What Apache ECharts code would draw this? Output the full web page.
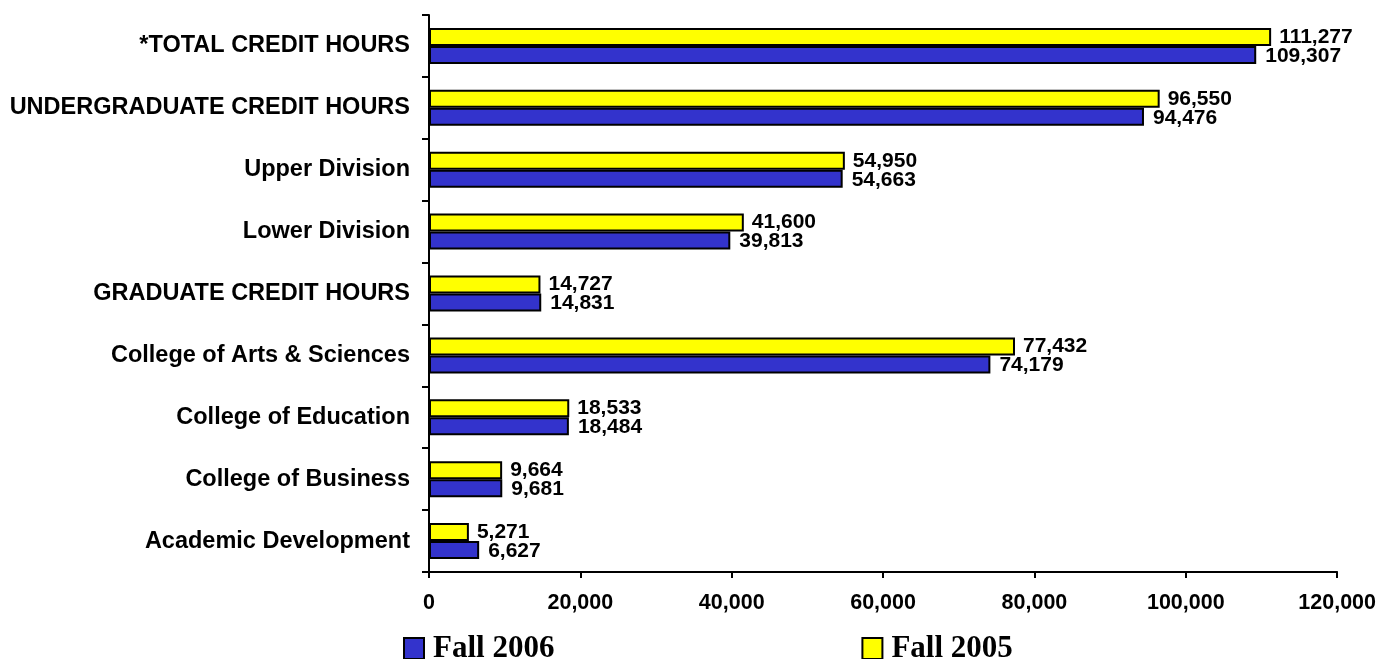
<!DOCTYPE html>
<html>
<head>
<meta charset="utf-8">
<script src="https://cdn.jsdelivr.net/npm/echarts@6/dist/echarts.min.js"></script>
<style>
html,body{margin:0;padding:0;background:#fff;}
#chart{width:1379px;height:659px;}
</style>
</head>
<body>
<div id="chart"></div>
<script>
var categories = ["*TOTAL CREDIT HOURS", "UNDERGRADUATE CREDIT HOURS", "Upper Division", "Lower Division", "GRADUATE CREDIT HOURS", "College of Arts & Sciences", "College of Education", "College of Business", "Academic Development"];
var fall2005 = [111277, 96550, 54950, 41600, 14727, 77432, 18533, 9664, 5271];
var fall2006 = [109307, 94476, 54663, 39813, 14831, 74179, 18484, 9681, 6627];
var xTicks = {min: 0, max: 120000, interval: 20000};

function fmt(v) { return Number(v).toLocaleString('en-US'); }

var chart = echarts.init(document.getElementById('chart'), null, {renderer: 'canvas'});
var labelFont = {fontFamily: 'Liberation Sans, Arial, sans-serif', fontWeight: 'bold', color: '#000'};
chart.setOption({
  animation: false,
  backgroundColor: '#fff',
  grid: {left: 429, right: 41, top: 15, bottom: 87, containLabel: false},
  legend: {
    data: ['Fall 2006', 'Fall 2005'],
    left: 403, top: 633, padding: 0,
    itemWidth: 20, itemHeight: 21, itemGap: 307,
    icon: 'rect',
    textStyle: {fontFamily: 'Liberation Serif, Times New Roman, serif', fontWeight: 'bold', fontSize: 31, color: '#000', padding: [0, 0, 0, 4]}
  },
  xAxis: {
    type: 'value', min: xTicks.min, max: xTicks.max, interval: xTicks.interval,
    splitLine: {show: false},
    axisLine: {show: true, lineStyle: {color: '#000', width: 2}},
    axisTick: {show: true, length: 6, lineStyle: {color: '#000', width: 2}},
    axisLabel: Object.assign({fontSize: 21.5, margin: 20, formatter: fmt}, labelFont)
  },
  yAxis: {
    type: 'category', data: categories, inverse: true,
    axisLine: {show: true, lineStyle: {color: '#000', width: 2}},
    axisTick: {show: true, length: 7, lineStyle: {color: '#000', width: 2}},
    axisLabel: Object.assign({fontSize: 23.5, margin: 19}, labelFont)
  },
  series: [
    {
      name: 'Fall 2005', type: 'bar', data: fall2005, barWidth: 18, barGap: '0%',
      itemStyle: {color: '#FFFF00', borderColor: '#000', borderWidth: 2},
      label: Object.assign({show: true, position: 'right', distance: 8, fontSize: 21, formatter: function(p){return fmt(p.value);}}, labelFont)
    },
    {
      name: 'Fall 2006', type: 'bar', data: fall2006, barWidth: 18, barGap: '0%',
      itemStyle: {color: '#3333CC', borderColor: '#000', borderWidth: 2},
      label: Object.assign({show: true, position: 'right', distance: 9, fontSize: 21, offset: [0, 1], formatter: function(p){return fmt(p.value);}}, labelFont)
    }
  ]
});
</script>
</body>
</html>
